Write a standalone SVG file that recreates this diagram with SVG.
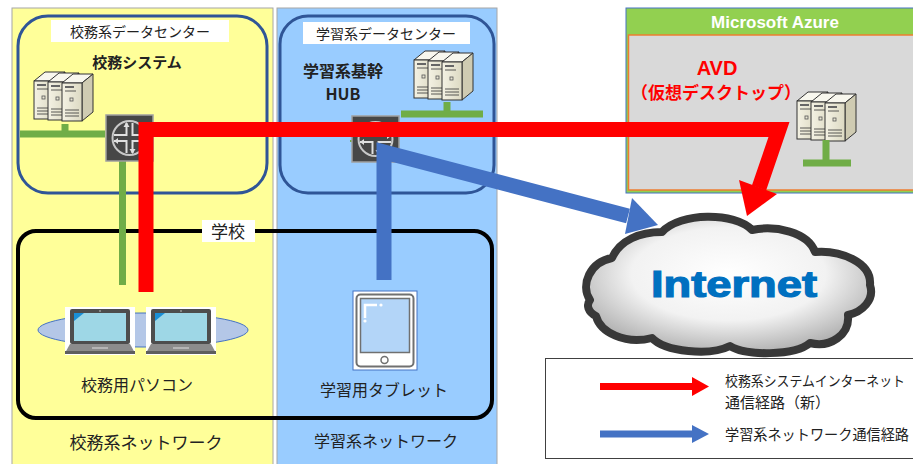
<svg xmlns="http://www.w3.org/2000/svg" width="913" height="464" viewBox="0 0 913 464">
  <style>
    .jp { font-family: "Noto Sans CJK JP", "Noto Sans", sans-serif; fill: #222; }
    .b { font-weight: bold; }
    .dc { fill: none; stroke: #2F5597; stroke-width: 3; }
    .lbl { fill: #FFFFFF; }
    .net { stroke: #70AD47; stroke-width: 7; fill: none; }
    .srvline { stroke: #333; stroke-width: 0.8; }
  </style>
  <defs>
    <linearGradient id="towerFront" x1="0" y1="0" x2="1" y2="0">
      <stop offset="0" stop-color="#F4F2E4"/>
      <stop offset="1" stop-color="#DCD9C2"/>
    </linearGradient>
    <radialGradient id="cloudFill" cx="0.5" cy="0.42" r="0.62">
      <stop offset="0" stop-color="#FFFFFF"/>
      <stop offset="0.55" stop-color="#F2F2F2"/>
      <stop offset="1" stop-color="#A9A9A9"/>
    </radialGradient>
    <!-- one server tower -->
    <g id="tower">
      <polygon points="0,11 11,2 31,2 20,11" fill="#F8F7EE" stroke="#333" stroke-width="1"/>
      <polygon points="20,11 31,2 31,40 20,49" fill="#CFCBB2" stroke="#333" stroke-width="1"/>
      <rect x="0" y="11" width="20" height="38" fill="url(#towerFront)" stroke="#333" stroke-width="1"/>
      <rect x="3" y="14" width="9" height="2" fill="#666"/>
      <line x1="3" y1="19" x2="14" y2="19" class="srvline"/>
      <rect x="8" y="26" width="3" height="3" fill="none" stroke="#555" stroke-width="0.8"/>
      <line x1="3" y1="38" x2="17" y2="38" class="srvline"/>
      <line x1="3" y1="41" x2="17" y2="41" class="srvline"/>
      <line x1="3" y1="44" x2="17" y2="44" class="srvline"/>
    </g>
    <g id="servers">
      <use href="#tower" x="0" y="0"/>
      <use href="#tower" x="14" y="1"/>
      <use href="#tower" x="28" y="2"/>
    </g>
    <!-- router icon, 47 x 46 -->
    <g id="router">
      <rect x="0" y="0" width="47" height="46" fill="#474747" stroke="#A0A0A0" stroke-width="1.5"/>
      <circle cx="23.5" cy="23" r="17" fill="none" stroke="#C8C8C8" stroke-width="2"/>
      <g stroke="#E0E0E0" stroke-width="2" fill="none">
        <path d="M20.5,8 V20 H8"/>
        <path d="M26.5,8 V20 H39"/>
        <path d="M20.5,38 V26 H8"/>
        <path d="M26.5,38 V26 H39"/>
      </g>
      <g fill="#E0E0E0">
        <polygon points="17.5,12 20.5,7 23.5,12"/>
        <polygon points="23.5,34 26.5,39 29.5,34"/>
        <polygon points="12,23 8,26 12,29"/>
        <polygon points="35,17 39,20 35,23"/>
      </g>
    </g>
    <!-- laptop icon, 70 x 48 -->
    <g id="laptop">
      <rect x="0" y="0" width="70" height="48" fill="#FFFFFF"/>
      <rect x="5" y="2" width="60" height="35" rx="2" fill="#4D4D4D"/>
      <rect x="9" y="6" width="52" height="28" fill="#9ED7E6"/>
      <polygon points="9,6 19,6 9,14" fill="#1A8FD6"/>
      <circle cx="35" cy="4" r="1" fill="#999"/>
      <polygon points="5,37 65,37 70,46 0,46" fill="#8C8C8C"/>
      <rect x="0" y="44" width="70" height="3" fill="#5E5E5E"/>
      <rect x="27" y="40" width="16" height="2" fill="#B5B5B5"/>
    </g>
  </defs>

  <rect width="913" height="464" fill="#FFFFFF"/>

  <!-- network panels -->
  <g id="admin-panel">
    <rect x="12" y="8" width="261" height="460" fill="#FFFF99" stroke="#A6A6A6" stroke-width="1"/>
    <text class="jp" x="146" y="449" font-size="17" text-anchor="middle">校務系ネットワーク</text>
  </g>
  <g id="learning-panel">
    <rect x="277" y="8" width="220" height="460" fill="#99CCFF" stroke="#A6A6A6" stroke-width="1"/>
    <text class="jp" x="386" y="447" font-size="16" text-anchor="middle">学習系ネットワーク</text>
  </g>

  <!-- admin data centre -->
  <g id="admin-dc">
    <rect x="18" y="16" width="249" height="177" rx="30" class="dc"/>
    <rect x="51" y="20" width="178" height="22" class="lbl"/>
    <text class="jp" x="140" y="37" font-size="14" text-anchor="middle">校務系データセンター</text>
    <text class="jp b" x="137" y="68" font-size="15" text-anchor="middle">校務システム</text>
  </g>
  <g id="admin-servers">
    <use href="#servers" x="34" y="70"/>
  </g>

  <!-- learning data centre -->
  <g id="learning-dc">
    <rect x="280" y="16" width="214" height="177" rx="28" class="dc"/>
    <rect x="303" y="22" width="167" height="22" class="lbl"/>
    <text class="jp" x="386" y="39" font-size="14" text-anchor="middle">学習系データセンター</text>
    <text class="jp b" x="343" y="77" font-size="16" text-anchor="middle">学習系基幹</text>
    <text class="jp b" x="343" y="100" font-size="16" text-anchor="middle">HUB</text>
  </g>
  <g id="learning-servers">
    <use href="#servers" x="414" y="49"/>
  </g>

  <!-- Azure -->
  <g id="azure">
    <rect x="626" y="8" width="290" height="185" fill="#92D050" stroke="#4472C4" stroke-width="1"/>
    <rect x="628.5" y="35" width="290" height="155" fill="#D9D9D9" stroke="#ED7D31" stroke-width="1.5"/>
    <text x="775" y="28" font-family="'Liberation Sans', Arial, sans-serif" font-weight="bold" font-size="17" fill="#FFFFFF" text-anchor="middle">Microsoft Azure</text>
    <text x="717" y="75" font-family="'Liberation Sans', Arial, sans-serif" font-weight="bold" font-size="20" fill="#FF0000" text-anchor="middle">AVD</text>
    <text class="jp b" x="716" y="99" font-size="17" style="fill:#FF0000" text-anchor="middle">（仮想デスクトップ）</text>
  </g>
  <g id="avd-servers">
    <use href="#servers" x="797" y="90"/>
  </g>

  <!-- school -->
  <g id="school">
    <rect x="18" y="231" width="474" height="187" rx="18" fill="none" stroke="#000" stroke-width="4"/>
    <rect x="202" y="220" width="53" height="22" class="lbl"/>
    <text class="jp" x="228" y="238" font-size="17" text-anchor="middle">学校</text>
  </g>

  <!-- local wiring (green) -->
  <g id="wiring">
    <path class="net" d="M20,134 H105 M65,124 V134"/>
    <path class="net" d="M122.5,161 V285"/>
    <path class="net" d="M401,114 H483 M447,102 V114"/>
    <path class="net" d="M826,140 V163 M803,163 H851"/>
    <path d="M350,141 H354" stroke="#70AD47" stroke-width="2"/>
  </g>

  <g id="router-admin">
    <use href="#router" x="106" y="115"/>
  </g>
  <g id="router-learning">
    <use href="#router" x="352" y="116"/>
  </g>

  <g id="admin-pcs">
    <ellipse cx="143" cy="330" rx="105" ry="17" fill="#B4C7E7" stroke="#4472C4" stroke-width="1"/>
    <use href="#laptop" x="65" y="307"/>
    <use href="#laptop" x="146" y="307"/>
    <text class="jp" x="137" y="391" font-size="16" text-anchor="middle">校務用パソコン</text>
  </g>

  <g id="tablet">
    <rect x="353" y="291" width="64" height="79" fill="#FFFFFF" stroke="#4472C4" stroke-width="1"/>
    <rect x="356.5" y="294.5" width="57" height="72" rx="4" fill="#FFFFFF" stroke="#707070" stroke-width="2"/>
    <rect x="360.5" y="298.5" width="49" height="54" fill="#B3D5F8" stroke="#707070" stroke-width="1.5"/>
    <path d="M365,318 V305 H377" stroke="#FFFFFF" stroke-width="2.5" fill="none"/>
    <circle cx="381" cy="305" r="1.6" fill="#FFFFFF"/>
    <circle cx="365" cy="321" r="1.6" fill="#FFFFFF"/>
    <circle cx="384.5" cy="360" r="3.5" fill="none" stroke="#707070" stroke-width="1.5"/>
    <text class="jp" x="384" y="396" font-size="16" text-anchor="middle">学習用タブレット</text>
  </g>

  <!-- Internet cloud -->
  <g id="internet">
    <path d="M590,300 C580,285 590,262 612,258 C620,240 640,232 662,232 C680,212 735,212 752,230 C775,225 808,232 815,252 C840,250 872,262 870,285 C875,300 862,312 848,315 C850,335 830,348 810,343 C795,356 745,356 730,346 C710,356 665,352 652,338 C625,345 600,332 596,316 C588,312 586,305 590,300 Z" fill="url(#cloudFill)" stroke="#383838" stroke-width="8" stroke-linejoin="round"/>
    <text x="734" y="297" font-family="'Liberation Sans', Arial, sans-serif" font-weight="bold" font-size="36" fill="#0070C0" stroke="#0070C0" stroke-width="1.2" text-anchor="middle" textLength="166" lengthAdjust="spacingAndGlyphs">Internet</text>
  </g>

  <!-- routes -->
  <g id="connectors">
    <path d="M384,280 V152 L628,216" fill="none" stroke="#4472C4" stroke-width="15" stroke-linejoin="miter"/>
    <polygon points="658,225 625,234 632,198" fill="#4472C4"/>
    <path d="M146,292 V129.5 H779 L759,188" fill="none" stroke="#FF0000" stroke-width="15" stroke-linejoin="miter"/>
    <polygon points="747,216 739,180 777,194" fill="#FF0000"/>
  </g>

  <!-- legend -->
  <g id="legend">
    <rect x="545.5" y="358.5" width="380" height="100" fill="#FFFFFF" stroke="#404040" stroke-width="1"/>
    <rect x="600" y="383" width="93" height="7" fill="#FF0000"/>
    <polygon points="692,377 709,386.5 692,396" fill="#FF0000"/>
    <rect x="600" y="430.5" width="93" height="7" fill="#4472C4"/>
    <polygon points="692,425 709,434 692,443" fill="#4472C4"/>
    <text class="jp" x="725" y="386" font-size="14" textLength="180" lengthAdjust="spacingAndGlyphs">校務系システムインターネット</text>
    <text class="jp" x="725" y="408" font-size="15">通信経路（新）</text>
    <text class="jp" x="725" y="440" font-size="14.5" textLength="184" lengthAdjust="spacingAndGlyphs">学習系ネットワーク通信経路</text>
  </g>
</svg>
